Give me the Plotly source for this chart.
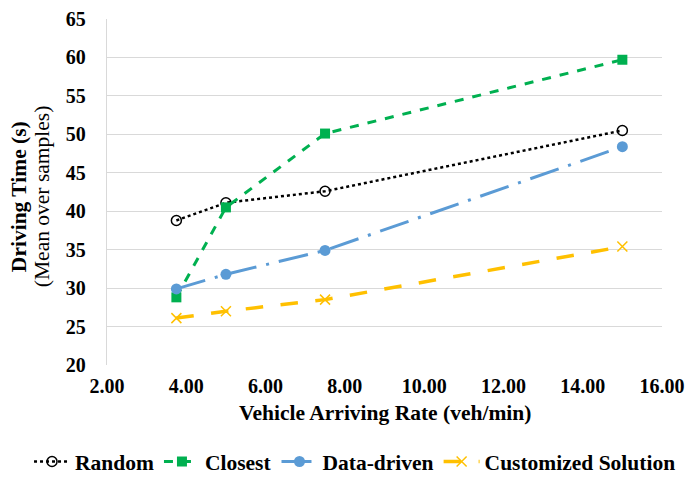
import plotly.graph_objects as go

rates = [3.75, 5.0, 7.5, 15.0]
random_vals = [38.8, 41.1, 42.6, 50.5]
closest_vals = [28.8, 40.5, 50.1, 59.7]
datadriven_vals = [29.9, 31.8, 34.9, 48.4]
custom_vals = [26.1, 27.0, 28.5, 35.4]
x_ticks = [2, 4, 6, 8, 10, 12, 14, 16]
y_ticks = [20, 25, 30, 35, 40, 45, 50, 55, 60, 65]

FONT = "Liberation Serif"
FS_TICK = 20
FS_TXT = 21.5

fig = go.Figure()
fig.add_trace(go.Scatter(
    x=rates, y=random_vals, name="<b>Random</b>", mode="lines+markers",
    line=dict(color="black", width=2.5, dash="dot"),
    marker=dict(symbol="circle-open", size=10, color="black", line=dict(width=1.5, color="black")),
))
fig.add_trace(go.Scatter(
    x=rates, y=closest_vals, name="<b>Closest</b>", mode="lines+markers",
    line=dict(color="#00B050", width=3, dash="dash"),
    marker=dict(symbol="square", size=10, color="#00B050"),
))
fig.add_trace(go.Scatter(
    x=rates, y=datadriven_vals, name="<b>Data-driven</b>", mode="lines+markers",
    line=dict(color="#5B9BD5", width=3, dash="30px,10px,3px,10px"),
    marker=dict(symbol="circle", size=11, color="#5B9BD5"),
))
fig.add_trace(go.Scatter(
    x=rates, y=custom_vals, name="<b>Customized Solution</b>", mode="lines+markers",
    line=dict(color="#FFC000", width=3.5, dash="longdash"),
    marker=dict(symbol="x-thin", size=10, color="#FFC000", line=dict(width=1.5, color="#FFC000")),
))

# page body has an 8px margin, so the figure is laid out 8px up/left to compensate
fig.update_layout(
    width=690, height=477,
    margin=dict(l=99, r=36, t=11, b=120.4, autoexpand=False),
    paper_bgcolor="white", plot_bgcolor="white",
    font=dict(family=FONT, size=FS_TXT, color="black"),
    showlegend=True,
    legend=dict(orientation="h", x=-0.1405, xanchor="left", y=-0.279, yanchor="middle",
                font=dict(family=FONT, size=FS_TXT), itemwidth=36, tracegroupgap=0),
    annotations=[
        dict(text="<b>Driving Time (s)</b>", textangle=-90, xref="paper", yref="paper",
             x=-0.1586, y=0.488, xanchor="center", yanchor="middle", showarrow=False,
             font=dict(family=FONT, size=FS_TXT)),
        dict(text="(Mean over samples)", textangle=-90, xref="paper", yref="paper",
             x=-0.1171, y=0.488, xanchor="center", yanchor="middle", showarrow=False,
             font=dict(family=FONT, size=FS_TXT)),
        dict(text="<b>Vehicle Arriving Rate (veh/min)</b>", xref="paper", yref="paper",
             x=0.5, y=-0.14, xanchor="center", yanchor="middle", showarrow=False,
             font=dict(family=FONT, size=FS_TXT)),
    ],
)

fig.update_xaxes(
    range=[2, 16], tickvals=x_ticks, ticktext=["<b>%.2f</b>" % v for v in x_ticks],
    tickfont=dict(family=FONT, size=FS_TICK),
    showgrid=False, zeroline=False, showline=False, ticks="", ticklabelstandoff=7,
)
fig.update_yaxes(
    range=[20, 65], tickvals=y_ticks, ticktext=["<b>%d</b>" % v for v in y_ticks],
    tickfont=dict(family=FONT, size=FS_TICK),
    showgrid=True, gridcolor="#D9D9D9", gridwidth=1.3, zeroline=False,
    showline=True, linecolor="#D9D9D9", linewidth=1.3, ticks="", ticklabelstandoff=16,
)

fig.write_html("out.html")
